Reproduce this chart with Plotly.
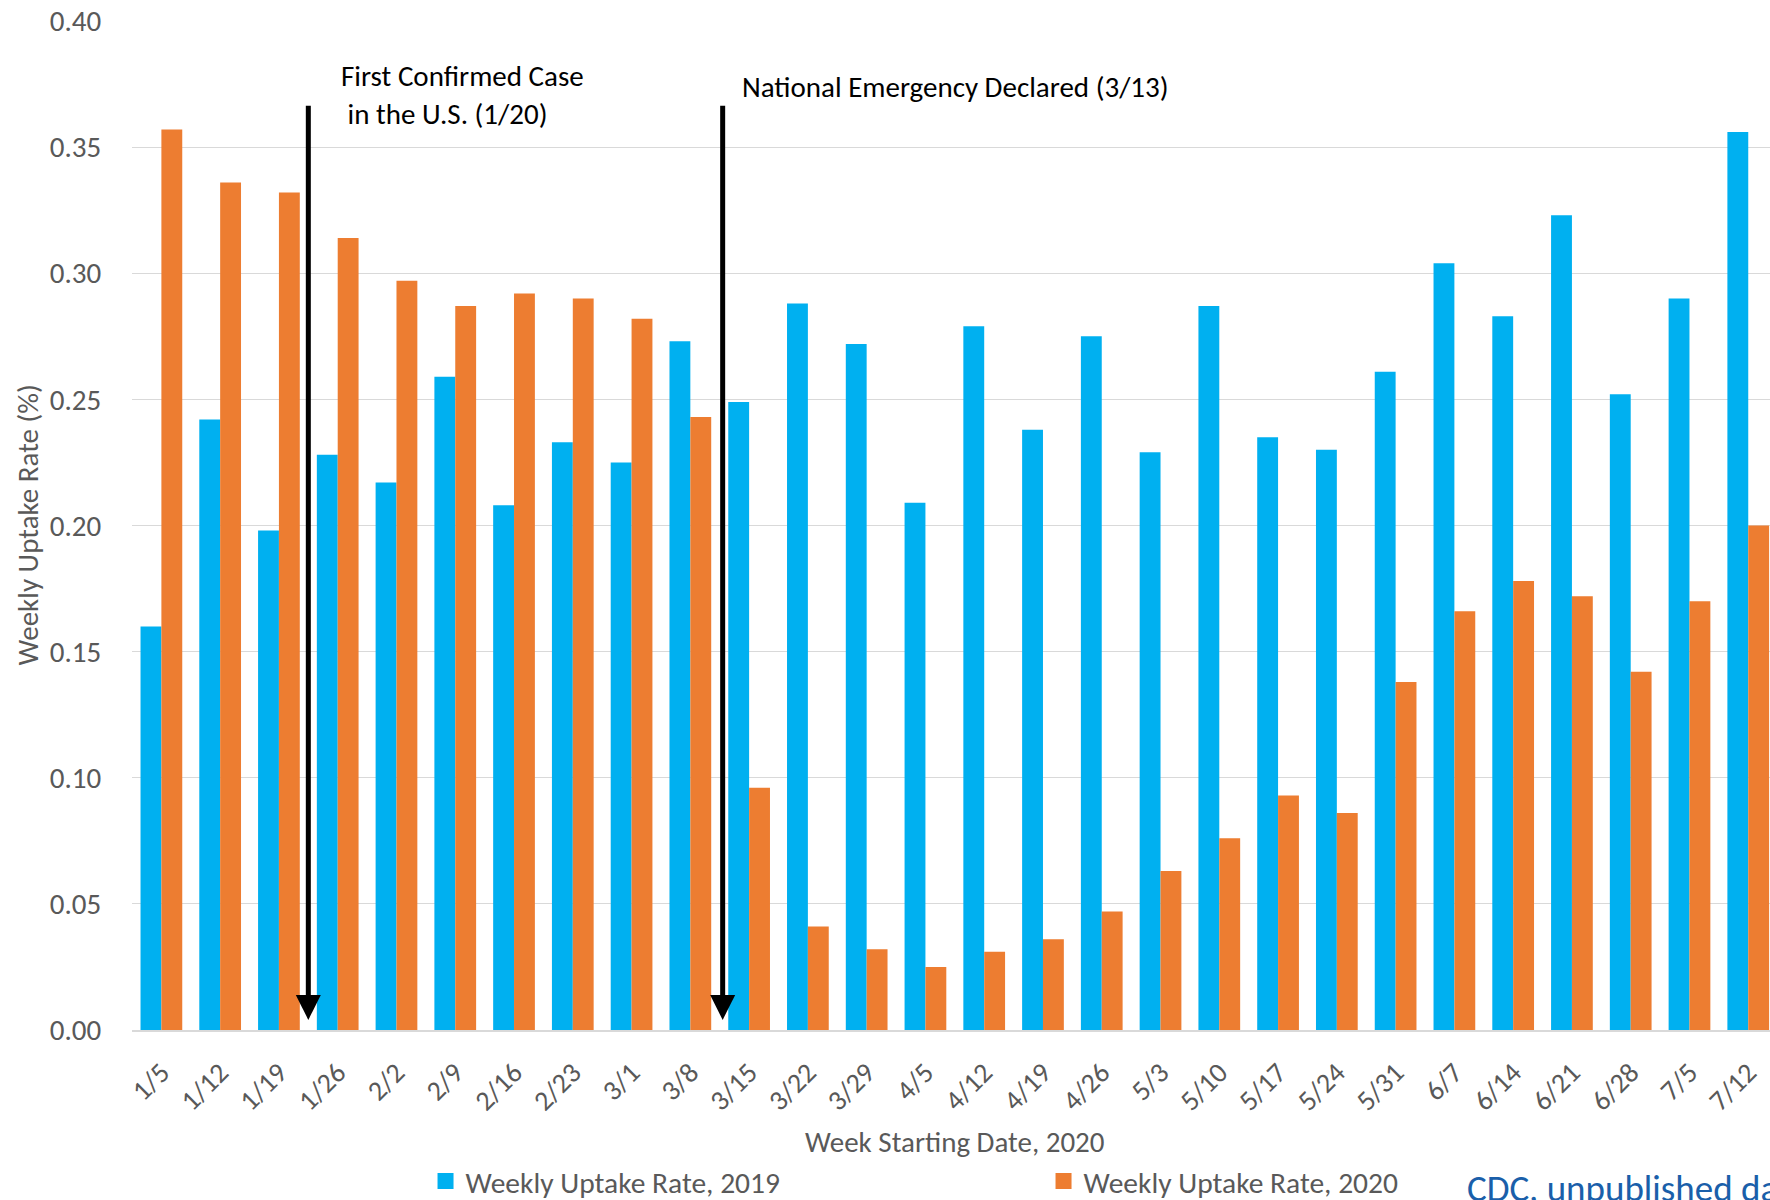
import plotly.graph_objects as go

weeks = ["1/5", "1/12", "1/19", "1/26", "2/2", "2/9", "2/16", "2/23", "3/1", "3/8",
         "3/15", "3/22", "3/29", "4/5", "4/12", "4/19", "4/26", "5/3", "5/10", "5/17",
         "5/24", "5/31", "6/7", "6/14", "6/21", "6/28", "7/5", "7/12"]

rate_2019 = [0.160, 0.242, 0.198, 0.228, 0.217, 0.259, 0.208, 0.233, 0.225, 0.273,
             0.249, 0.288, 0.272, 0.209, 0.279, 0.238, 0.275, 0.229, 0.287, 0.235,
             0.230, 0.261, 0.304, 0.283, 0.323, 0.252, 0.290, 0.356]

rate_2020 = [0.357, 0.336, 0.332, 0.314, 0.297, 0.287, 0.292, 0.290, 0.282, 0.243,
             0.096, 0.041, 0.032, 0.025, 0.031, 0.036, 0.047, 0.063, 0.076, 0.093,
             0.086, 0.138, 0.166, 0.178, 0.172, 0.142, 0.170, 0.200]

series_names = ["Weekly Uptake Rate, 2019", "Weekly Uptake Rate, 2020"]
series_colors = ["#00B0F0", "#ED7D31"]

y_ticks = [0.00, 0.05, 0.10, 0.15, 0.20, 0.25, 0.30, 0.35, 0.40]

# event markers: position between weeks (category index units)
event_pos = [2.5, 9.55]

FONT = "Carlito, Calibri, Lato, sans-serif"
GREY = "#595959"

fig = go.Figure()
for vals, name, col in zip([rate_2019, rate_2020], series_names, series_colors):
    fig.add_trace(go.Bar(x=weeks, y=vals, name=name, showlegend=False,
                         legendgroup=name,
                         marker=dict(color=col, line=dict(width=0))))
# legend entries with larger square swatches
for name, col in zip(series_names, series_colors):
    fig.add_trace(go.Scatter(x=[None], y=[None], mode="markers", name=name,
                             legendgroup=name, hoverinfo="skip",
                             marker=dict(symbol="square", size=16, color=col)))

annotations = []
for xp in event_pos:
    annotations.append(dict(x=xp, y=0.004, ax=xp, ay=0.367, xref="x", yref="y",
                            axref="x", ayref="y", text="", showarrow=True,
                            arrowhead=2, arrowsize=1.0, arrowwidth=5,
                            arrowcolor="black"))

annotations.append(dict(x=3.02, y=0.3707, xref="x", yref="y", xanchor="left",
                        yanchor="middle", align="left", showarrow=False,
                        text="First Confirmed Case<br>\u00a0in the U.S. (1/20)",
                        font=dict(family=FONT, size=29, color="black")))
annotations.append(dict(x=9.84, y=0.374, xref="x", yref="y", xanchor="left",
                        yanchor="middle", align="left", showarrow=False,
                        text="National Emergency Declared (3/13)",
                        font=dict(family=FONT, size=29, color="black")))
annotations.append(dict(x=0.5025, y=-0.1106, xref="paper", yref="paper",
                        xanchor="center", yanchor="middle", showarrow=False,
                        text="Week Starting Date, 2020",
                        font=dict(family=FONT, size=29, color=GREY)))
annotations.append(dict(x=-0.0641, y=0.5, xref="paper", yref="paper",
                        xanchor="center", yanchor="middle", showarrow=False,
                        textangle=-90, text="Weekly Uptake Rate (%)",
                        font=dict(family=FONT, size=29, color=GREY)))
annotations.append(dict(x=(1465 - 132) / 1638, y=(1029.5 - 1163) / 1008,
                        xref="paper", yref="paper", xanchor="left",
                        yanchor="top", showarrow=False,
                        text="CDC, unpublished data",
                        font=dict(family=FONT, size=37, color="#1A5FAA")))

fig.update_layout(
    width=1770, height=1200,
    margin=dict(l=132, r=0, t=21, b=170, autoexpand=False),
    paper_bgcolor="white", plot_bgcolor="white",
    barmode="group", bargap=0.29, bargroupgap=0.0,
    font=dict(family=FONT, size=29, color=GREY),
    showlegend=True,
    legend=dict(orientation="h", x=0.1792, y=-0.150, xanchor="left",
                yanchor="middle", entrywidth=573, entrywidthmode="pixels",
                itemsizing="trace",
                font=dict(family=FONT, size=29.5, color=GREY),
                bgcolor="rgba(0,0,0,0)", traceorder="normal"),
    annotations=annotations,
)

fig.update_xaxes(type="category", range=[-0.5, 27.37], showgrid=False,
                 automargin=False,
                 tickangle=-45, ticks="outside", ticklen=13, tickcolor="rgba(0,0,0,0)",
                 tickfont=dict(family=FONT, size=28, color=GREY),
                 showline=True, linecolor="#D9D9D9", linewidth=2,
                 zeroline=False)
fig.update_yaxes(range=[0, 0.40], tickvals=y_ticks, tickformat=".2f",
                 automargin=False,
                 showgrid=True, gridcolor="#D9D9D9", gridwidth=1.3,
                 ticks="outside", ticklen=24, tickcolor="rgba(0,0,0,0)",
                 tickfont=dict(family=FONT, size=29, color=GREY),
                 zeroline=False, showline=False)

fig.write_html("out.html", config={"displayModeBar": False},
               post_script="document.body.style.margin='0';document.body.style.overflow='hidden';")
